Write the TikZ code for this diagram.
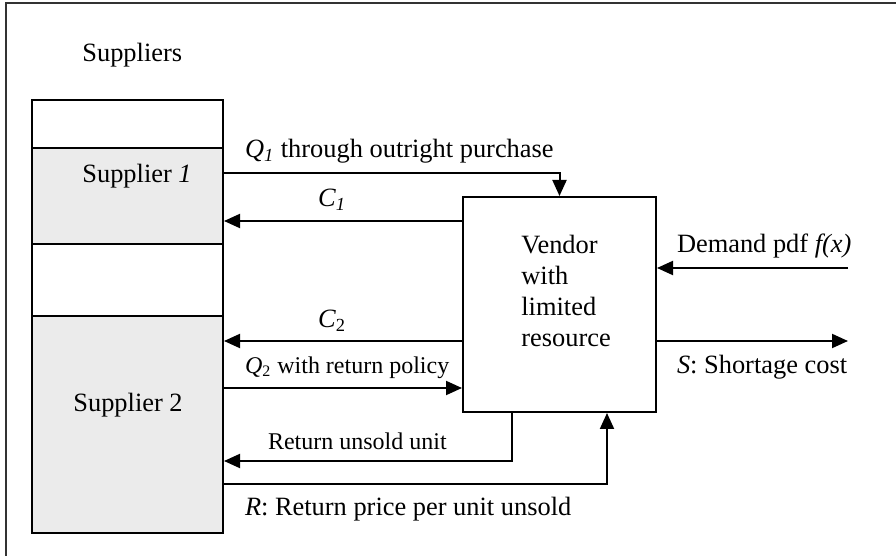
\documentclass[tikz,border=0pt]{standalone}
\usepackage{fontspec}
\setmainfont{Liberation Serif}
\usetikzlibrary{arrows.meta}

\begin{document}
\begin{tikzpicture}[x=0.5pt,y=-0.5pt,
    every node/.style={font=\fontsize{13.2}{15.5}\selectfont},
    box/.style={draw,line width=1pt,inner sep=0pt,minimum width=95.5pt},
    shaded/.style={box,fill=black!8},
    txt/.style={anchor=base west,inner sep=0pt},
    small/.style={font=\fontsize{12}{14}\selectfont},
    flow/.style={line width=1pt,-{Triangle[length=8pt,width=7pt]}}]
        \useasboundingbox (0,0) rectangle (896,556);
        \draw[line width=1pt,black!80] (896,3) -- (6,3) -- (6,556);
        % supplier column
        \node[txt] (suppliers) at (82,62) {Suppliers};
        \node[box,minimum height=24pt] (blank1) at (127.5,124) {};
        \node[box,minimum height=36pt] (blank2) at (127.5,280) {};
        \node[shaded,minimum height=48pt] (sup1) at (127.5,196) {};
        \node[shaded,minimum height=108.5pt] (sup2) at (127.5,424.5) {};
        \node[txt] (sup1txt) at (82,183) {Supplier \textit{1}};
        \node[txt] (sup2txt) at (73,412) {Supplier 2};
        % vendor
        \node[box,minimum width=96.5pt,minimum height=107.5pt] (vendor) at (559.5,304.5) {};
        \node[txt,anchor=north west,align=left] (vendortxt) at (521,235) {Vendor\\with\\limited\\resource};
        \coordinate (dem) at (848,268);
        \coordinate (short) at (848,341);
        % flows
        \draw[flow] (sup1.east |- 0,173) -| (vendor.north)
            node[txt,at start,xshift=10pt,yshift=7.5pt] {\textit{Q}\textsubscript{\textit{1}} through outright purchase};
        \draw[flow] (vendor.west |- 0,221) -- (sup1.east |- 0,221)
            node[txt,at end,xshift=46.5pt,yshift=7pt] {\textit{C}\textsubscript{\textit{1}}};
        \draw[flow] (vendor.west |- 0,341) -- (sup2.east |- 0,341)
            node[txt,at end,xshift=46.5pt,yshift=6.5pt] {\textit{C}\textsubscript{2}};
        \draw[flow] (sup2.east |- 0,388) -- (vendor.west |- 0,388)
            node[txt,small,at start,xshift=10pt,yshift=7.5pt] {\textit{Q}\textsubscript{2} with return policy};
        \draw[flow] (vendor.south -| 512,0) |- (sup2.east |- 0,461)
            node[txt,small,at end,xshift=21.5pt,yshift=5.5pt] {Return unsold unit};
        \draw[flow] (sup2.east |- 0,484) -| (vendor.south -| 607,0)
            node[txt,at start,xshift=10pt,yshift=-16pt] {\textit{R}: Return price per unit unsold};
        \draw[flow] (dem) -- (vendor.east |- dem)
            node[txt,at end,xshift=9.5pt,yshift=7.5pt] {Demand pdf \textit{f(x)}};
        \draw[flow] (vendor.east |- short) -- (short)
            node[txt,at start,xshift=9.5pt,yshift=-16pt] {\textit{S}: Shortage cost};
    \end{tikzpicture}
\end{document}
